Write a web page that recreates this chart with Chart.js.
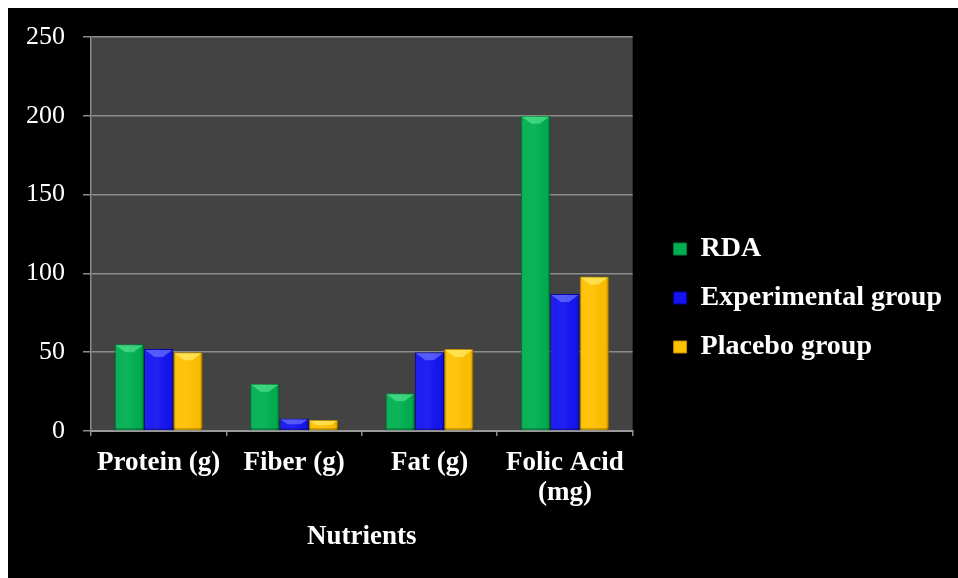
<!DOCTYPE html>
<html>
<head>
<meta charset="utf-8">
<script src="https://cdn.jsdelivr.net/npm/chart.js@4"></script>
<style>
  html, body { margin: 0; padding: 0; background: #ffffff; }
  #frame { position: absolute; left: 8px; top: 8px; width: 950px; height: 570px; background: #000000; }
  canvas { display: block; }
</style>
</head>
<body>
<div id="frame"><canvas id="chart" width="950" height="570"></canvas></div>
<script>
// Nutrient intake compared with the recommended daily allowance
const categories = ['Protein (g)', 'Fiber (g)', 'Fat (g)', ['Folic Acid', '(mg)']];
const seriesNames = ['RDA', 'Experimental group', 'Placebo group'];
const rdaValues = [55, 30, 24, 200];
const experimentalValues = [52, 8, 50, 87];
const placeboValues = [50, 7, 52, 98];
const yTickValues = [0, 50, 100, 150, 200, 250];

const fillColors = ['#00b050', '#1414f2', '#ffc000'];
const edgeColors = ['#00803c', '#0000a8', '#c08a00'];
const bevelColors = ['rgba(120,255,170,0.45)', 'rgba(130,140,255,0.55)', 'rgba(255,245,120,0.6)'];

const FONT = '"Liberation Serif", "Times New Roman", serif';
const GRID = '#8c8c8c';

// Dark panel behind the bars
const panelPlugin = {
  id: 'panel',
  beforeDraw(chart) {
    const { ctx, chartArea: a } = chart;
    ctx.save();
    ctx.fillStyle = '#000000';
    ctx.fillRect(0, 0, chart.width, chart.height);
    ctx.fillStyle = '#434343';
    ctx.fillRect(a.left, a.top, a.right - a.left, a.bottom - a.top);
    ctx.restore();
  }
};

// Bevelled shading on top of each bar
const bevelPlugin = {
  id: 'bevel',
  afterDatasetsDraw(chart) {
    const ctx = chart.ctx;
    chart.data.datasets.forEach((ds, di) => {
      const meta = chart.getDatasetMeta(di);
      meta.data.forEach(el => {
        const { x, y, base, width } = el.getProps(['x', 'y', 'base', 'width'], true);
        const l = x - width / 2, r = x + width / 2;
        const t = Math.min(y, base), b = Math.max(y, base);
        const h = b - t;
        if (h <= 0) return;
        ctx.save();
        // rounded side shading
        const g = ctx.createLinearGradient(l, 0, r, 0);
        g.addColorStop(0, 'rgba(0,0,0,0.18)');
        g.addColorStop(0.12, 'rgba(255,255,255,0.04)');
        g.addColorStop(0.45, 'rgba(255,255,255,0.06)');
        g.addColorStop(0.88, 'rgba(0,0,0,0.02)');
        g.addColorStop(1, 'rgba(0,0,0,0.25)');
        ctx.fillStyle = g;
        ctx.fillRect(l, t, width, h);
        // top bevel
        const bh = Math.min(8, h / 2);
        const inset = Math.min(width * 0.33, bh * 1.2);
        ctx.beginPath();
        ctx.moveTo(l + 1, t + 1);
        ctx.lineTo(r - 1, t + 1);
        ctx.lineTo(r - 1 - inset, t + bh);
        ctx.lineTo(l + 1 + inset, t + bh);
        ctx.closePath();
        ctx.fillStyle = bevelColors[di];
        ctx.fill();
        // bottom edge shadow
        ctx.fillStyle = 'rgba(0,0,0,0.25)';
        ctx.fillRect(l, b - 2, width, 2);
        ctx.restore();
      });
    });
  }
};

const values = [rdaValues, experimentalValues, placeboValues];

new Chart(document.getElementById('chart'), {
  type: 'bar',
  data: {
    labels: categories,
    datasets: seriesNames.map((name, i) => ({
      label: name,
      data: values[i],
      backgroundColor: fillColors[i],
      borderColor: edgeColors[i],
      borderWidth: 1,
      categoryPercentage: 0.65,
      barPercentage: 1.0
    }))
  },
  options: {
    responsive: false,
    animation: false,
    layout: { padding: { top: 29, left: 0, right: 6, bottom: 19 } },
    plugins: {
      tooltip: { enabled: false },
      legend: {
        position: 'right',
        align: 'center',
        maxWidth: 400,
        labels: {
          color: '#ffffff',
          font: { family: FONT, size: 28, weight: 'bold' },
          boxWidth: 13,
          boxHeight: 12,
          padding: 21
        }
      }
    },
    scales: {
      x: {
        offset: true,
        grid: { display: true, drawOnChartArea: false, drawTicks: true, tickLength: 5, color: GRID, lineWidth: 1.5, offset: true },
        border: { display: true, color: '#9a9a9a', width: 2 },
        ticks: {
          color: '#ffffff',
          padding: 12,
          maxRotation: 0,
          autoSkip: false,
          font: { family: FONT, size: 27, weight: 'bold', lineHeight: 1.1 }
        },
        title: {
          display: true,
          text: 'Nutrients',
          color: '#ffffff',
          padding: { top: 0, bottom: 6 },
          font: { family: FONT, size: 27, weight: 'bold', lineHeight: 1.2 }
        },
        afterFit(scale) { scale.height = 128; }
      },
      y: {
        min: 0,
        max: 250,
        afterBuildTicks(scale) { scale.ticks = yTickValues.map(v => ({ value: v })); },
        grid: { color: GRID, lineWidth: 1.5, tickLength: 8 },
        border: { display: true, color: GRID, width: 1.5 },
        ticks: {
          color: '#ffffff',
          padding: 18,
          font: { family: FONT, size: 26 }
        },
        afterFit(scale) {
          scale.width = 83;
          scale.paddingTop = 0;
          scale.paddingBottom = 0;
        }
      },
      gap: {
        type: 'linear',
        position: 'right',
        display: true,
        grid: { display: false, drawTicks: false },
        border: { display: false },
        ticks: { display: false },
        afterFit(scale) { scale.width = 20; }
      }
    }
  },
  plugins: [panelPlugin, bevelPlugin]
});
</script>
</body>
</html>
